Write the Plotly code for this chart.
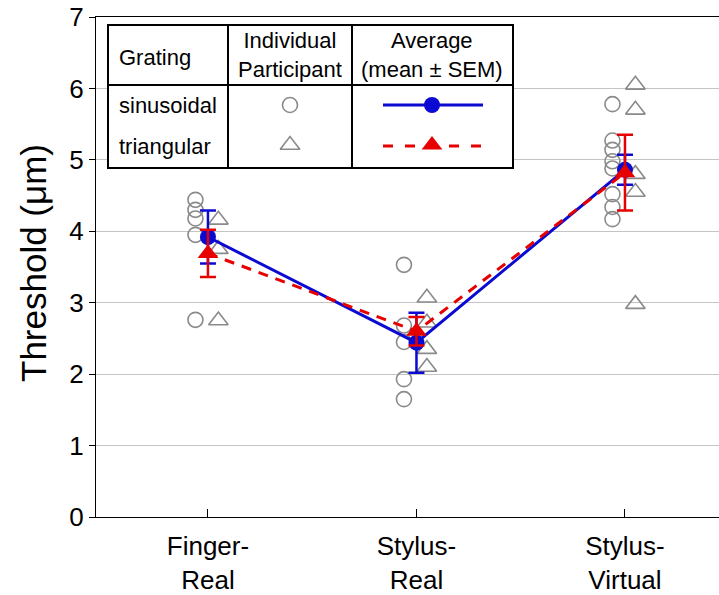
import plotly.graph_objects as go

# ---------------- data ----------------
categories = ["Finger-<br>Real", "Stylus-<br>Real", "Stylus-<br>Virtual"]
y_tick_vals = [0, 1, 2, 3, 4, 5, 6, 7]

sin_finger_real = [4.44, 4.30, 4.18, 3.95, 2.76]
sin_stylus_real = [3.53, 2.68, 2.45, 1.93, 1.65]
sin_stylus_virtual = [5.78, 5.27, 5.14, 4.98, 4.88, 4.52, 4.34, 4.17]

tri_finger_real = [4.16, 3.75, 2.75]
tri_stylus_real = [3.07, 2.72, 2.35, 2.10]
tri_stylus_virtual = [6.05, 5.70, 4.80, 4.55, 2.98]

sin_mean = [3.92, 2.44, 4.86]
sin_sem = [0.37, 0.42, 0.21]
tri_mean = [3.69, 2.60, 4.82]
tri_sem = [0.33, 0.20, 0.53]

# ---------------- styles ----------------
FONT = "Liberation Sans, Arial, sans-serif"
GREY = "#8a8a8a"
BLUE = "#0a0ad2"
RED = "#e60000"
W, H = 719, 595
L, R, T, B = 96, 719, 17, 517   # plot area in pixels
XR = [-0.537, 2.451]
YR = [0, 7]
SIN_OFF, TRI_OFF = -0.06, 0.05

def px2x(px):
    return XR[0] + (px - L) / (R - L) * (XR[1] - XR[0])

def py2y(py):
    return YR[0] + (B - py) / (B - T) * (YR[1] - YR[0])

fig = go.Figure()

sin_groups = [sin_finger_real, sin_stylus_real, sin_stylus_virtual]
tri_groups = [tri_finger_real, tri_stylus_real, tri_stylus_virtual]

sx, sy, tx, ty = [], [], [], []
for i, g in enumerate(sin_groups):
    sx += [i + SIN_OFF] * len(g); sy += g
for i, g in enumerate(tri_groups):
    tx += [i + TRI_OFF] * len(g); ty += g

open_circle = dict(symbol="circle-open", size=15, color=GREY, line=dict(width=1.6, color=GREY))
open_tri = dict(symbol="triangle-up-open", size=17, color=GREY, line=dict(width=1.6, color=GREY))

fig.add_trace(go.Scatter(x=sx, y=sy, mode="markers", showlegend=False, marker=open_circle))
fig.add_trace(go.Scatter(x=tx, y=ty, mode="markers", showlegend=False, marker=open_tri))

xc = list(range(len(categories)))
fig.add_trace(go.Scatter(x=xc, y=sin_mean, mode="lines+markers", showlegend=False,
                         line=dict(color=BLUE, width=3),
                         marker=dict(symbol="circle", size=16, color=BLUE),
                         error_y=dict(type="data", array=sin_sem, color=BLUE,
                                      thickness=2.5, width=8)))
fig.add_trace(go.Scatter(x=xc, y=tri_mean, mode="lines+markers", showlegend=False,
                         line=dict(color=RED, width=3, dash="10px,8px"),
                         marker=dict(symbol="triangle-up", size=18, color=RED),
                         error_y=dict(type="data", array=tri_sem, color=RED,
                                      thickness=2.5, width=8)))

# ---------------- legend table ----------------
tl, tr, tt, tb = 108, 513, 25, 168
c1, c2, rdiv = 228, 352, 85
row1, row2 = 105, 146

shapes = []
shapes.append(dict(type="rect", xref="x", yref="y", x0=px2x(tl), x1=px2x(tr),
                   y0=py2y(tt), y1=py2y(tb),
                   fillcolor="white", line=dict(color="black", width=2), layer="between"))
for xv in (c1, c2):
    shapes.append(dict(type="line", xref="x", yref="y", x0=px2x(xv), x1=px2x(xv),
                       y0=py2y(tt), y1=py2y(tb),
                       line=dict(color="black", width=2), layer="between"))
shapes.append(dict(type="line", xref="x", yref="y", x0=px2x(tl), x1=px2x(tr),
                   y0=py2y(rdiv), y1=py2y(rdiv),
                   line=dict(color="black", width=2), layer="between"))

fig.add_trace(go.Scatter(x=[px2x(290)], y=[py2y(row1)], mode="markers",
                         showlegend=False, hoverinfo="skip", marker=open_circle))
fig.add_trace(go.Scatter(x=[px2x(290)], y=[py2y(row2 - 1)], mode="markers",
                         showlegend=False, hoverinfo="skip", marker=open_tri))
fig.add_trace(go.Scatter(x=[px2x(383), px2x(483)], y=[py2y(row1)] * 2,
                         mode="lines", showlegend=False, hoverinfo="skip",
                         line=dict(color=BLUE, width=3)))
fig.add_trace(go.Scatter(x=[px2x(432)], y=[py2y(row1)],
                         mode="markers", showlegend=False, hoverinfo="skip",
                         marker=dict(symbol="circle", size=16, color=BLUE)))
fig.add_trace(go.Scatter(x=[px2x(383), px2x(483)], y=[py2y(row2)] * 2,
                         mode="lines", showlegend=False, hoverinfo="skip",
                         line=dict(color=RED, width=3, dash="10px,12px")))
fig.add_trace(go.Scatter(x=[px2x(432)], y=[py2y(row2 - 1)],
                         mode="markers", showlegend=False, hoverinfo="skip",
                         marker=dict(symbol="triangle-up", size=18, color=RED)))

TFS = 22
annotations = [
    dict(x=px2x(117), y=py2y(57), text="Grating", xanchor="left"),
    dict(x=px2x(290), y=py2y(55), text="Individual<br>Participant", xanchor="center"),
    dict(x=px2x(432), y=py2y(55), text="Average<br>(mean ± SEM)", xanchor="center"),
    dict(x=px2x(117), y=py2y(row1), text="sinusoidal", xanchor="left"),
    dict(x=px2x(117), y=py2y(row2), text="triangular", xanchor="left"),
]
for a in annotations:
    a.update(xref="x", yref="y", yanchor="middle", showarrow=False,
             font=dict(family=FONT, size=TFS, color="black"))

annotations.append(dict(xref="paper", yref="paper", x=(33 - L) / (R - L),
                        y=(B - 263) / (B - T), text="Threshold (μm)", textangle=-90,
                        showarrow=False, xanchor="center", yanchor="middle",
                        font=dict(family=FONT, size=35, color="black")))

fig.update_layout(
    width=W, height=H,
    margin=dict(l=L, r=W - R, t=T, b=H - B, pad=0, autoexpand=False),
    plot_bgcolor="white", paper_bgcolor="white",
    shapes=shapes, annotations=annotations,
    font=dict(family=FONT, color="black"),
    xaxis=dict(range=XR, tickmode="array", tickvals=xc, ticktext=categories,
               ticks="inside", ticklen=8, tickwidth=1, tickcolor="black",
               ticklabelstandoff=6, automargin=False,
               showline=True, linecolor="black", linewidth=1.3, mirror=True,
               showgrid=False, zeroline=False,
               tickfont=dict(family=FONT, size=26, color="black")),
    yaxis=dict(range=YR, tickmode="array", tickvals=y_tick_vals, automargin=False,
               ticks="outside", ticklen=6, tickwidth=1, tickcolor="black",
               showline=True, linecolor="black", linewidth=1.3,
               showgrid=True, gridcolor="#c4c4c4", gridwidth=1.3, zeroline=False,
               tickfont=dict(family=FONT, size=26, color="black")),
)

fig.write_html("out.html")
